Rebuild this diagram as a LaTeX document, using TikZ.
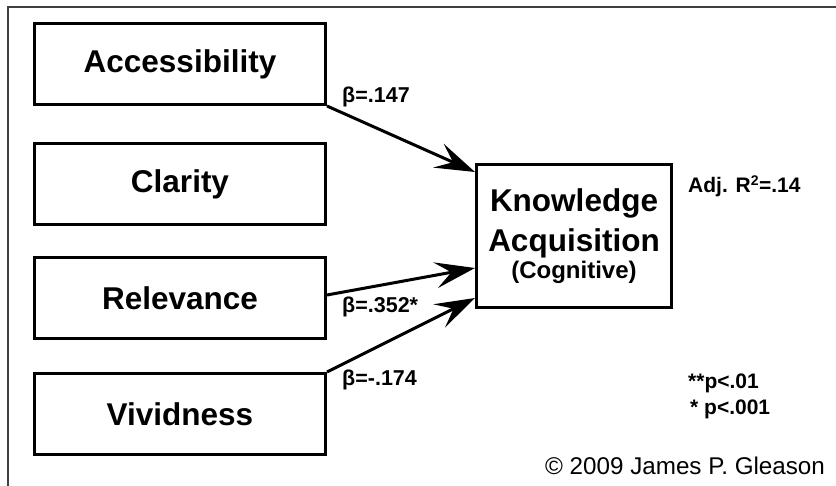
\documentclass[tikz,border=0pt]{standalone}
\usepackage{fontspec}
\setmainfont{Liberation Sans}
\usetikzlibrary{arrows.meta,calc}

\tikzset{
  varbox/.style={draw, line width=3pt, minimum width=291pt, minimum height=81pt,
    inner sep=0pt, font=\bfseries\fontsize{31.5}{36}\selectfont},
  outcome/.style={draw, line width=3pt, minimum width=195pt, minimum height=143pt,
    inner sep=0pt, align=center, font=\bfseries\fontsize{31.5}{40}\selectfont},
  path/.style={line width=3pt, -{Stealth[length=40pt,width=26pt,inset=16pt]}},
  coef/.style={anchor=base west, inner sep=0pt, font=\bfseries\fontsize{21.5}{24}\selectfont},
  note/.style={anchor=base west, inner sep=0pt, font=\bfseries\fontsize{21}{24}\selectfont},
  credit/.style={anchor=base west, inner sep=0pt, font=\fontsize{24.2}{26}\selectfont},
  frame/.style={draw=black!75, line width=1.8pt}
}

\begin{document}
\begin{tikzpicture}[x=1pt,y=-1pt]
  \useasboundingbox (0,0) rectangle (836,486);

  % outer frame (top and left edges)
  \draw[frame] (8,490) -- (8,7) -- (840,7);

  % predictor boxes
  \node[varbox] (acc) at (180,64)    {Accessibility};
  \node[varbox] (cla) at (180,184.5) {Clarity};
  \node[varbox] (rel) at (180,298)   {Relevance};
  \node[varbox] (viv) at (180,414)   {Vividness};

  % outcome box
  \node[outcome] (kn) at (574,236)
    {Knowledge\\Acquisition\\[-13pt]{\fontsize{24}{28}\selectfont(Cognitive)}};

  % regression paths
  \coordinate (tA) at ([yshift=-9pt]kn.north west);
  \coordinate (tR) at ([yshift=-105pt]kn.north west);
  \coordinate (tV) at ([yshift=-135pt]kn.north west);
  \coordinate (sR) at ([yshift=3pt]rel.east);
  \draw[path] (acc.south east) -- (tA);
  \draw[path] (sR) -- (tR);
  \draw[path] (viv.north east) -- (tV);

  % coefficients
  \node[coef] (bA) at (342,103) {β=.147};
  \node[coef] (bR) at (342,313) {β=.352*};
  \node[coef] (bV) at (342,386) {β=-.174};

  % fit and significance notes
  \node[note] (r2) at (688,193) {Adj. R\textsuperscript{\fontsize{14}{16}\selectfont 2}=.14};
  \node[note] (p1) at (688,389) {**p<.01};
  \node[note] (p2) at (690,414) {* p<.001};

  \node[credit] (cr) at (545,475) {© 2009 James P. Gleason};
\end{tikzpicture}
\end{document}
